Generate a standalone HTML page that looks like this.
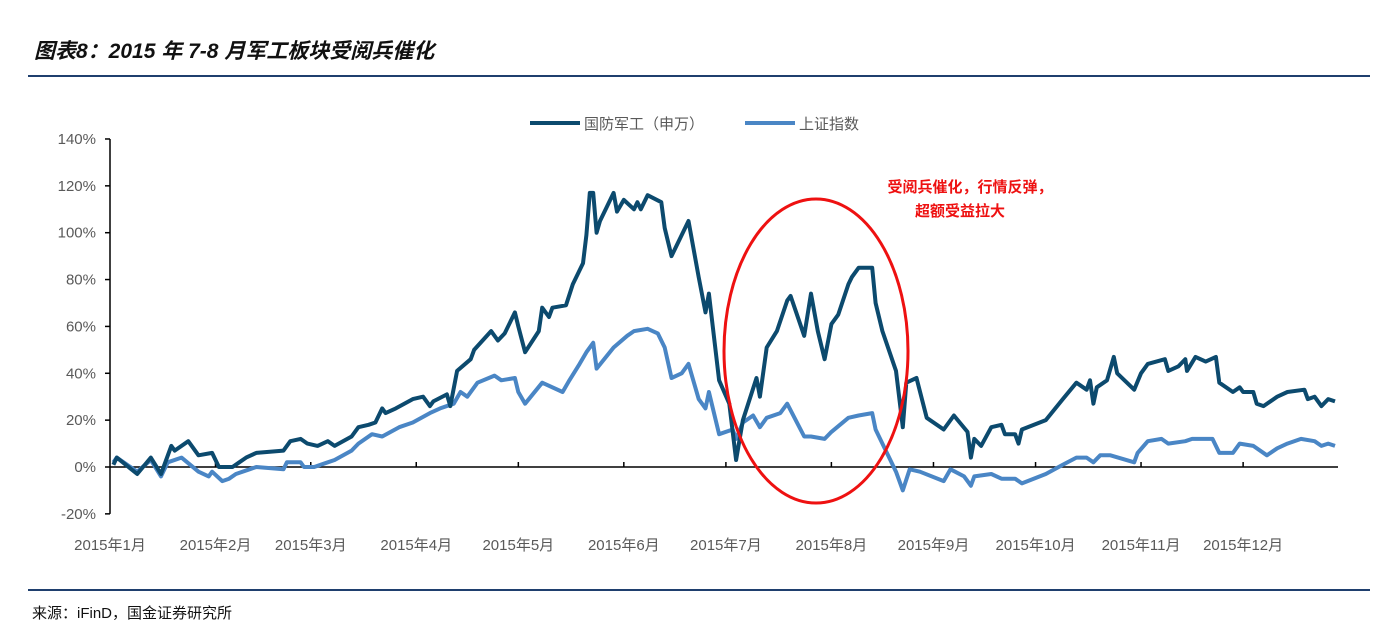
<!DOCTYPE html>
<html><head><meta charset="utf-8"><style>
body{margin:0;background:#fff;width:1384px;height:634px;overflow:hidden;font-family:"Liberation Sans","Noto Sans CJK SC",sans-serif;}
svg text{font-family:"Liberation Sans","Noto Sans CJK SC",sans-serif;}
</style></head><body>
<svg id="chart" width="1384" height="634" xmlns="http://www.w3.org/2000/svg">
<text x="34" y="58" font-size="21" font-weight="bold" font-style="italic" fill="#111">图表8：2015 年 7-8 月军工板块受阅兵催化</text>
<line x1="28" y1="76" x2="1370" y2="76" stroke="#1f3f6e" stroke-width="2"/>
<line x1="28" y1="590" x2="1370" y2="590" stroke="#1f3f6e" stroke-width="2"/>
<text x="32" y="618" font-size="15" fill="#111">来源：iFinD，国金证券研究所</text>
<g>
<line x1="530" y1="123" x2="580" y2="123" stroke="#0c4a6e" stroke-width="4"/>
<text x="584" y="129" font-size="15" fill="#595959">国防军工（申万）</text>
<line x1="745" y1="123" x2="795" y2="123" stroke="#4a86c5" stroke-width="4"/>
<text x="799" y="129" font-size="15" fill="#595959">上证指数</text>
</g>
<g id="axes"></g>
<g id="series"></g>
<ellipse cx="816" cy="351" rx="92" ry="152" fill="none" stroke="#ee1111" stroke-width="3"/>
<text x="970" y="192" font-size="15" font-weight="bold" fill="#ee1111" text-anchor="middle">受阅兵催化，行情反弹，</text>
<text x="960" y="216" font-size="15" font-weight="bold" fill="#ee1111" text-anchor="middle">超额受益拉大</text>
</svg>
<script>
const yTicks=[-20,0,20,40,60,80,100,120,140];
const monthLabels=["2015年1月","2015年2月","2015年3月","2015年4月","2015年5月","2015年6月","2015年7月","2015年8月","2015年9月","2015年10月","2015年11月","2015年12月"];
const monthDays=[0,31,59,90,120,151,181,212,242,272,303,333];
const defenseDays=[1,2,8,12,15,18,19,23,26,30,32,36,38,40,43,51,53,56,58,61,64,66,71,73,76,78,80,81,84,89,92,94,95,99,100,102,106,107,112,114,116,119,120,122,126,127,129,130,134,136,139,140,141,142,143,144,148,149,151,154,155,156,158,162,163,165,170,173,175,176,179,182,184,186,190,191,193,196,199,200,204,206,208,210,212,214,217,218,220,224,225,227,231,233,234,237,240,245,248,252,253,254,256,259,262,263,266,267,268,275,280,284,287,288,289,290,293,295,296,301,303,305,310,311,314,316,316.5,319,322,325,326,330,332,333,336,337,339,343,346,351,352,354,356,358,360];
const defenseValues=[1,4,-3,4,-3,9,7,11,5,6,0,0,2,4,6,7,11,12,10,9,11,9,13,17,18,19,25,23,25,29,30,26,28,31,26,41,46,50,58,54,57,66,60,49,58,68,64,68,69,78,87,99,117,117,100,105,117,109,114,110,113,110,116,113,102,90,105,81,66,74,37,27,3,20,38,30,51,58,71,73,56,74,58,46,61,65,78,81,85,85,70,58,41,17,36,38,21,16,22,15,4,12,9,17,18,14,14,10,16,20,29,36,33,37,27,34,37,47,40,33,40,44,46,41,43,46,41,47,45,47,36,32,34,32,32,27,26,30,32,33,29,30,26,29,28];
const shanghaiDays=[1,2,8,12,15,17,21,26,29,30,33,35,37,41,43,51,52,56,57,60,64,66,71,73,77,80,85,89,94,97,101,103,105,108,113,115,119,120,122,127,133,135,138,140,142,143,148,152,154,158,161,163,165,168,170,173,175,176,179,183,184,186,189,191,193,197,199,204,206,210,212,217,220,224,225,231,233,235,238,245,247,251,253,254,259,262,266,268,275,280,284,287,289,291,294,301,302,305,309,311,316,318,324,326,330,332,336,340,343,346,350,354,356,358,360];
const shanghaiValues=[2,4,-2,3,-4,2,4,-2,-4,-2,-6,-5,-3,-1,0,-1,2,2,0,0,2,3,7,10,14,13,17,19,23,25,27,32,30,36,39,37,38,32,27,36,32,37,44,49,53,42,51,56,58,59,57,51,38,40,44,29,25,32,14,16,12,19,22,17,21,23,27,13,13,12,15,21,22,23,16,-2,-10,-1,-2,-6,-1,-4,-8,-4,-3,-5,-5,-7,-3,1,4,4,2,5,5,2,6,11,12,10,11,12,12,6,6,10,9,5,8,10,12,11,9,10,9];
const NS="http://www.w3.org/2000/svg";
const X0=110,X1=1335,DMAX=360,Y0=467,YPER=2.343;
function xs(d){return X0+d*(X1-X0)/DMAX;}
function ys(v){return Y0-v*YPER;}
function mk(tag,attrs,parent){const e=document.createElementNS(NS,tag);for(const k in attrs)e.setAttribute(k,attrs[k]);parent.appendChild(e);return e;}
const axes=document.getElementById('axes');
let ya=mk('line',{x1:X0,y1:ys(140),x2:X0,y2:ys(-20),stroke:'#000','stroke-width':1.5},axes);


yTicks.forEach(t=>{
 let l=mk('line',{x1:X0-5,y1:ys(t),x2:X0,y2:ys(t),stroke:'#000','stroke-width':1.5},axes);
 
 
 let tx=mk('text',{x:96,y:ys(t)+5,'font-size':15,fill:'#595959','text-anchor':'end'},axes);
 tx.textContent=t+'%';
 
 
});
let xa=mk('line',{x1:X0,y1:Y0,x2:X1+3,y2:Y0,stroke:'#000','stroke-width':1.5},axes);


monthLabels.forEach((m,i)=>{
 const x=xs(monthDays[i]);
 if(i>0){let l=mk('line',{x1:x,y1:Y0,x2:x,y2:Y0-5,stroke:'#000','stroke-width':1.5},axes);
 
 }
 let tx=mk('text',{x:x,y:550,'font-size':15,fill:'#595959','text-anchor':'middle'},axes);
 tx.textContent=m;
 
 
});
const ser=document.getElementById('series');
function line(days,vals,color,name){
 const d=days.map((dd,i)=>(i?'L':'M')+xs(dd).toFixed(1)+','+ys(vals[i]).toFixed(1)).join('');
 let p=mk('path',{d:d,fill:'none',stroke:color,'stroke-width':4,'stroke-linejoin':'round'},ser);
 
 
}
line(shanghaiDays,shanghaiValues,'#4a86c5','shanghai-index-line');
line(defenseDays,defenseValues,'#0c4a6e','defense-industry-line');
</script>
</body></html>
